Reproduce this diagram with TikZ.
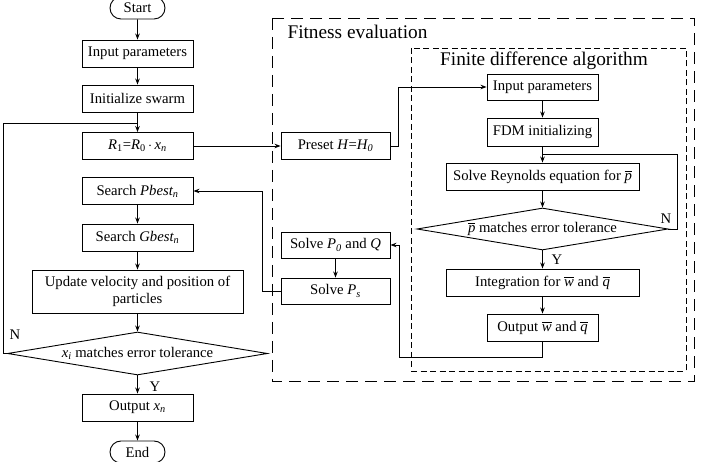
\documentclass[tikz,border=0pt]{standalone}
\usepackage{fontspec}
\setmainfont{Liberation Serif}
\usepackage{amsmath}
\usetikzlibrary{shapes,arrows.meta,positioning,calc}

\tikzset{
    txt/.style={font=\fontsize{14.7}{17}\selectfont},
    title/.style={font=\fontsize{19.3}{22}\selectfont},
    box/.style={txt, draw, line width=0.9pt, minimum height=27pt, inner sep=2pt},
    term/.style={txt, draw, line width=0.9pt, rounded rectangle, minimum width=59pt, minimum height=22pt, inner sep=2pt},
    decision/.style={txt, draw, line width=0.9pt, diamond, aspect=6, inner sep=0pt},
    arr/.style={line width=0.9pt, -{Stealth[length=6pt,width=4.5pt]}},
    con/.style={line width=0.9pt},
    outerframe/.style={line width=0.9pt, dash pattern=on 12pt off 7pt},
    innerframe/.style={line width=0.9pt, dash pattern=on 6pt off 3.5pt}
}

\begin{document}
\begin{tikzpicture}[x=1pt, y=-1pt]
    \useasboundingbox (0,0) rectangle (702,462);
    \clip (0,0) rectangle (702,462);

    % Dashed frames
    \draw[outerframe] (272,18) rectangle (694,381);
    \draw[innerframe] (411,48) rectangle (686,371);
    \node[title, anchor=west] (fit) at (284,32) {Fitness evaluation};
    \node[title] (fda) at (544,61) {Finite difference algorithm};

    % PSO column
    \node[term] (start) at (137.5,8) {Start};
    \node[box, minimum width=111pt] (in1) at (137.5,53.5) {Input parameters};
    \node[box, minimum width=111pt] (init) at (137.5,98.5) {Initialize swarm};
    \node[box, minimum width=111pt] (r1) at (137.5,146) {\textit{R}\textsubscript{1}=\textit{R}\textsubscript{0}\,$\cdot$\,\textit{x\textsubscript{n}}};
    \node[box, minimum width=111pt] (pbest) at (137.5,191) {Search \textit{Pbest\textsubscript{n}}};
    \node[box, minimum width=111pt] (gbest) at (137.5,237.5) {Search \textit{Gbest\textsubscript{n}}};
    \node[box, minimum width=211pt, minimum height=43pt, align=center] (upd) at (137.5,291.5) {Update velocity and position of\\particles};
    \node[decision, minimum width=260pt, minimum height=43pt] (xdec) at (137.5,353.5) {\textit{x\textsubscript{i}} matches error tolerance};
    \node[box, minimum width=111pt] (outx) at (137.5,407.5) {Output \textit{x\textsubscript{n}}};
    \node[term] (end) at (137.5,452) {End};
    \node[txt] (ny) at (155,387) {Y};
    \node[txt] (nn) at (15,335) {N};

    % Fitness evaluation
    \node[box, minimum width=109pt] (preset) at (335.5,146) {Preset \textit{H}=\textit{H\textsubscript{0}}};
    \node[box, minimum width=109pt, minimum height=26pt] (p0q) at (335.5,245) {Solve \textit{P\textsubscript{0}} and \textit{Q}};
    \node[box, minimum width=109pt, minimum height=26pt] (ps) at (335.5,291) {Solve \textit{P\textsubscript{s}}};

    % Finite difference algorithm
    \node[box, minimum width=111pt, minimum height=26pt] (in2) at (542.5,87) {Input parameters};
    \node[box, minimum width=111pt, minimum height=28pt] (fdm) at (542.5,132) {FDM initializing};
    \node[box, minimum width=193pt] (reyn) at (542.5,176.5) {Solve Reynolds equation for $\overline{\textit{p}}$};
    \node[decision, minimum width=251pt, minimum height=42pt] (pdec) at (542.5,229) {$\overline{\textit{p}}$ matches error tolerance};
    \node[box, minimum width=193pt] (integ) at (542.5,282.5) {Integration for $\overline{\textit{w}}$ and $\overline{\textit{q}}$};
    \node[box, minimum width=111pt] (outwq) at (542.5,327.5) {Output $\overline{\textit{w}}$ and $\overline{\textit{q}}$};
    \node[txt] (fy) at (557,260) {Y};
    \node[txt] (fn) at (666,219) {N};

    % Main flow
    \draw[arr] (start) -- (in1);
    \draw[arr] (in1) -- (init);
    \draw[arr] (init) -- (r1);
    \draw[arr] (pbest) -- (gbest);
    \draw[arr] (gbest) -- (upd);
    \draw[arr] (upd) -- (xdec);
    \draw[arr] (xdec) -- (outx);
    \draw[arr] (outx) -- (end);
    \coordinate (lp) at (3,123);
    \draw[con] (xdec.west) -| (lp) -- (lp -| r1.north);

    % Into fitness evaluation
    \draw[arr] (r1) -- (preset);
    \draw[arr] (preset.east) -- ++(8,0) |- (in2.west);
    \draw[arr] (in2) -- (fdm);
    \draw[arr] (fdm) -- (reyn);
    \draw[arr] (reyn) -- (pdec);
    \draw[con] (pdec.east) -- ++(9,0) |- ($(fdm.south)!0.5!(reyn.north)$);
    \draw[arr] (pdec) -- (integ);
    \draw[arr] (integ) -- (outwq);

    % Back to PSO
    \coordinate (rb) at (399,357);
    \draw[arr] (outwq.south) |- (rb) |- (p0q.east);
    \draw[arr] (p0q) -- (ps);
    \draw[arr] (ps.west) -- ++(-18,0) |- (pbest.east);
\end{tikzpicture}
\end{document}
